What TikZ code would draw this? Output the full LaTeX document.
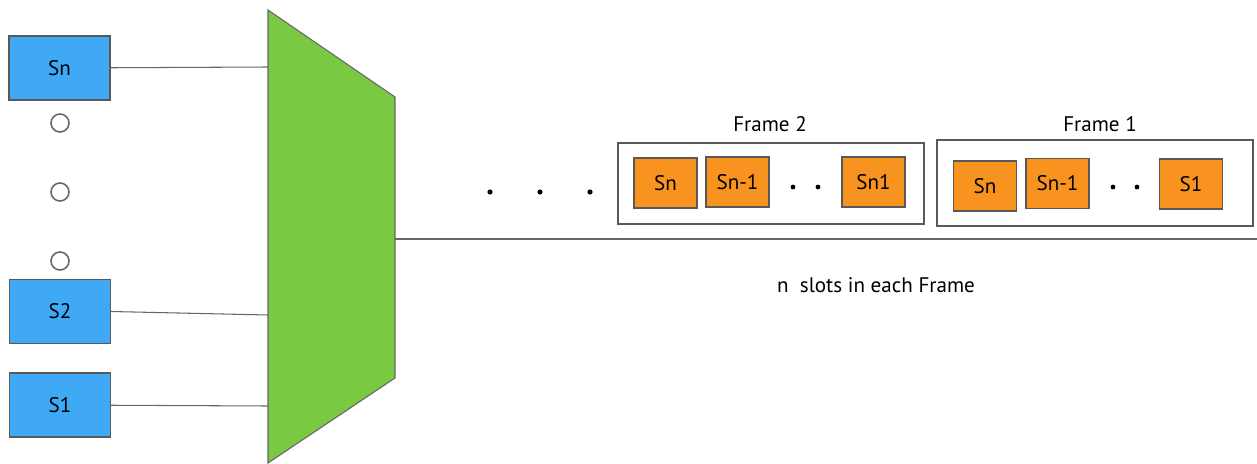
\documentclass[tikz,border=0pt]{standalone}
\usepackage{fontspec}
\setsansfont{PT Sans}
\definecolor{srcblue}{HTML}{3FA9F5}
\definecolor{muxgreen}{HTML}{7AC943}
\definecolor{slotorange}{HTML}{F7931E}
\begin{document}
\begin{tikzpicture}[x=0.02cm, y=-0.02cm, line width=0.6pt,
  srcbox/.style={draw=black!65, fill=srcblue, minimum width=2.02cm, minimum height=1.28cm},
  slotbox/.style={draw=black!65, fill=slotorange, minimum width=1.26cm, minimum height=1cm},
  framebox/.style={draw=black!65, line width=0.8pt},
  wire/.style={draw=black!60},
  ring/.style={draw=black!60, line width=0.9pt},
  txt/.style={font=\sffamily\fontsize{12}{14}\selectfont}]
\useasboundingbox (0,0) rectangle (1257,463);
% Sources
\node[srcbox, txt] (sn) at (59.5,68) {Sn};
\node[srcbox, txt] (s2) at (60,311.5) {S2};
\node[srcbox, txt] (s1) at (60,405) {S1};
\foreach \y in {123,192,261}
  \draw[ring] (60,\y) circle (9);
% Multiplexer
\fill[muxgreen, draw=black!60] (268,10) -- (395,97) -- (395,378) -- (268,463) -- cycle;
\coordinate (mux-n) at (268,67);
\coordinate (mux-2) at (268,315);
\coordinate (mux-1) at (268,406);
\coordinate (mux-out) at (395,239);
\coordinate (line-end) at (1257,239);
\draw[wire] (sn) -- (mux-n);
\draw[wire] (s2.east) -- (mux-2);
\draw[wire] (s1) -- (mux-1);
\draw[wire] (mux-out) -- (line-end);
% Earlier frames
\foreach \x in {490,540,590}
  \fill (\x,192) circle (2.6);
% Frame 2
\node[framebox, minimum width=6.12cm, minimum height=1.62cm] (f2) at (771,183.5) {};
\node[txt] (f2t) at (770,124) {Frame 2};
\node[slotbox, txt] (f2a) at (665.5,183) {Sn};
\node[slotbox, txt] (f2b) at (737.5,182) {Sn-1};
\node[slotbox, txt] (f2c) at (873.5,182) {Sn1};
\fill (793,187) circle (2.4) (818,187) circle (2.4);
% Frame 1
\node[framebox, minimum width=6.32cm, minimum height=1.72cm] (f1) at (1095,183) {};
\node[txt] (f1t) at (1100,124) {Frame 1};
\node[slotbox, txt] (f1a) at (985,186) {Sn};
\node[slotbox, txt] (f1b) at (1057.5,183.5) {Sn-1};
\node[slotbox, txt] (f1c) at (1191,184) {S1};
\fill (1113,187) circle (2.4) (1137,187) circle (2.4);
% Caption
\node[txt] (cap) at (876,285) {n\ \ slots in each Frame};
\end{tikzpicture}
\end{document}
